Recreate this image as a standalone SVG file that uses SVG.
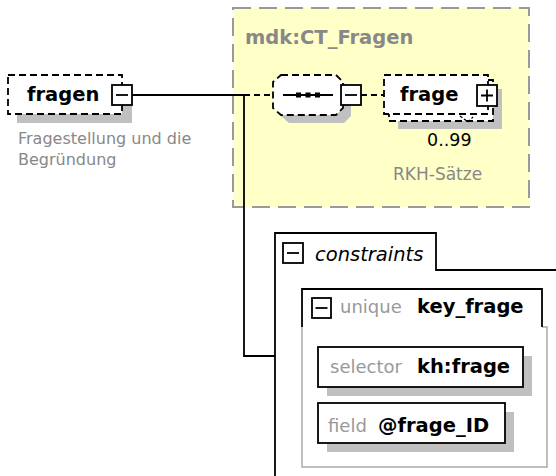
<svg xmlns="http://www.w3.org/2000/svg" width="556" height="476" viewBox="0 0 556 476">
<defs>
<style>
.bold{font-family:"DejaVu Sans",Verdana,sans-serif;font-weight:bold;font-size:19.5px;fill:#000}
.reg{font-family:"DejaVu Sans",Verdana,sans-serif;font-size:18px;fill:#999}
.desc{font-family:"DejaVu Sans",Verdana,sans-serif;font-size:16px;fill:#888}
.dash{fill:#fff;stroke:#000;stroke-width:1.8;stroke-dasharray:7 4}
.shadow{fill:#c0c0c0;stroke:none}
.btn{fill:#fff;stroke:#000;stroke-width:1.8}
.sym{stroke:#000;stroke-width:1.8;fill:none}
.line{stroke:#000;stroke-width:1.8;fill:none}
.dline{stroke:#000;stroke-width:1.8;fill:none;stroke-dasharray:6 4}
.solid{fill:#fff;stroke:#000;stroke-width:1.8}
</style>
</defs>
<rect width="556" height="476" fill="#fff"/>

<g id="complexType">
<rect x="233" y="8" width="296" height="199" fill="#ffffc8" stroke="#999" stroke-width="2" stroke-dasharray="18 8"/>
<text x="245" y="44" class="bold" style="fill:#888">mdk:CT_Fragen</text>
</g>

<g id="connectors">
<path class="line" d="M132,95 H244 V356 H275"/>
<path class="dline" d="M244,95 H273"/>
<path class="dline" d="M361,95 H384"/>
</g>

<g id="fragen">
<rect class="shadow" x="17" y="84" width="115" height="39"/>
<rect class="dash" x="8" y="75" width="114" height="39"/>
<text x="27" y="101" class="bold">fragen</text>
<rect class="btn" x="112" y="85" width="20" height="20"/>
<path class="sym" d="M116,95 H128"/>
<text class="desc" x="18" y="144">Fragestellung und die</text>
<text class="desc" x="18" y="165">Begründung</text>
</g>

<g id="sequence">
<path class="shadow" d="M289,83 H344 L351,90 V116 L344,123 H289 L281,116 V90 Z"/>
<path class="dash" d="M281,75 H336 L343,82 V108 L336,115 H281 L273,108 V82 Z"/>
<path class="sym" d="M283,95 H333"/>
<rect x="296" y="92.5" width="5" height="5" fill="#000"/>
<rect x="305.5" y="92.5" width="5" height="5" fill="#000"/>
<rect x="315" y="92.5" width="5" height="5" fill="#000"/>
<rect class="btn" x="341" y="85" width="20" height="20"/>
<path class="sym" d="M345,95 H357"/>
</g>

<g id="frage">
<rect class="shadow" x="398" y="89" width="104" height="40"/>
<rect class="dash" x="389" y="80" width="104" height="41"/>
<rect class="dash" x="384" y="75" width="104" height="39"/>
<text x="400" y="101" class="bold">frage</text>
<rect class="btn" x="477" y="85" width="20" height="21"/>
<path class="sym" d="M481,95.5 H493 M487,89.5 V101.5"/>
<path d="M460,116 L468,122 L473,117" fill="none" stroke="#000" stroke-width="1.2" stroke-dasharray="3 2"/>
<text x="427" y="146" style="font-family:'DejaVu Sans',Verdana,sans-serif;font-size:17.5px;fill:#000">0..99</text>
<text class="desc" x="393" y="180" style="font-size:17px">RKH-Sätze</text>
</g>

<g id="constraints">
<path class="line" d="M275,476 V233 H436 V270 H556"/>
<rect class="btn" x="283" y="243" width="20" height="20"/>
<path class="sym" d="M287,253 H299"/>
<text x="315" y="261" style="font-family:'DejaVu Sans',Verdana,sans-serif;font-style:italic;font-size:19.5px;fill:#000">constraints</text>
</g>

<g id="unique">
<path d="M542,327 H547 V467 H302 V327" fill="none" stroke="#aaa" stroke-width="1.5"/>
<path class="line" d="M302,327 V289 H542 V327"/>
<rect class="btn" x="312" y="298" width="19" height="20"/>
<path class="sym" d="M315.5,308 H327.5"/>
<text x="340" y="313" class="reg">unique</text>
<text x="417" y="313" class="bold">key_frage</text>
</g>

<g id="selector">
<rect class="shadow" x="327" y="356" width="205" height="40"/>
<rect class="solid" x="318" y="347" width="205" height="40"/>
<text x="330" y="373" class="reg">selector</text>
<text x="417" y="373" class="bold">kh:frage</text>
</g>

<g id="field">
<rect class="shadow" x="327" y="412" width="187" height="40"/>
<rect class="solid" x="318" y="403" width="187" height="40"/>
<text x="328" y="432" class="reg">field</text>
<text x="378" y="432" class="bold">@frage_ID</text>
</g>
</svg>
